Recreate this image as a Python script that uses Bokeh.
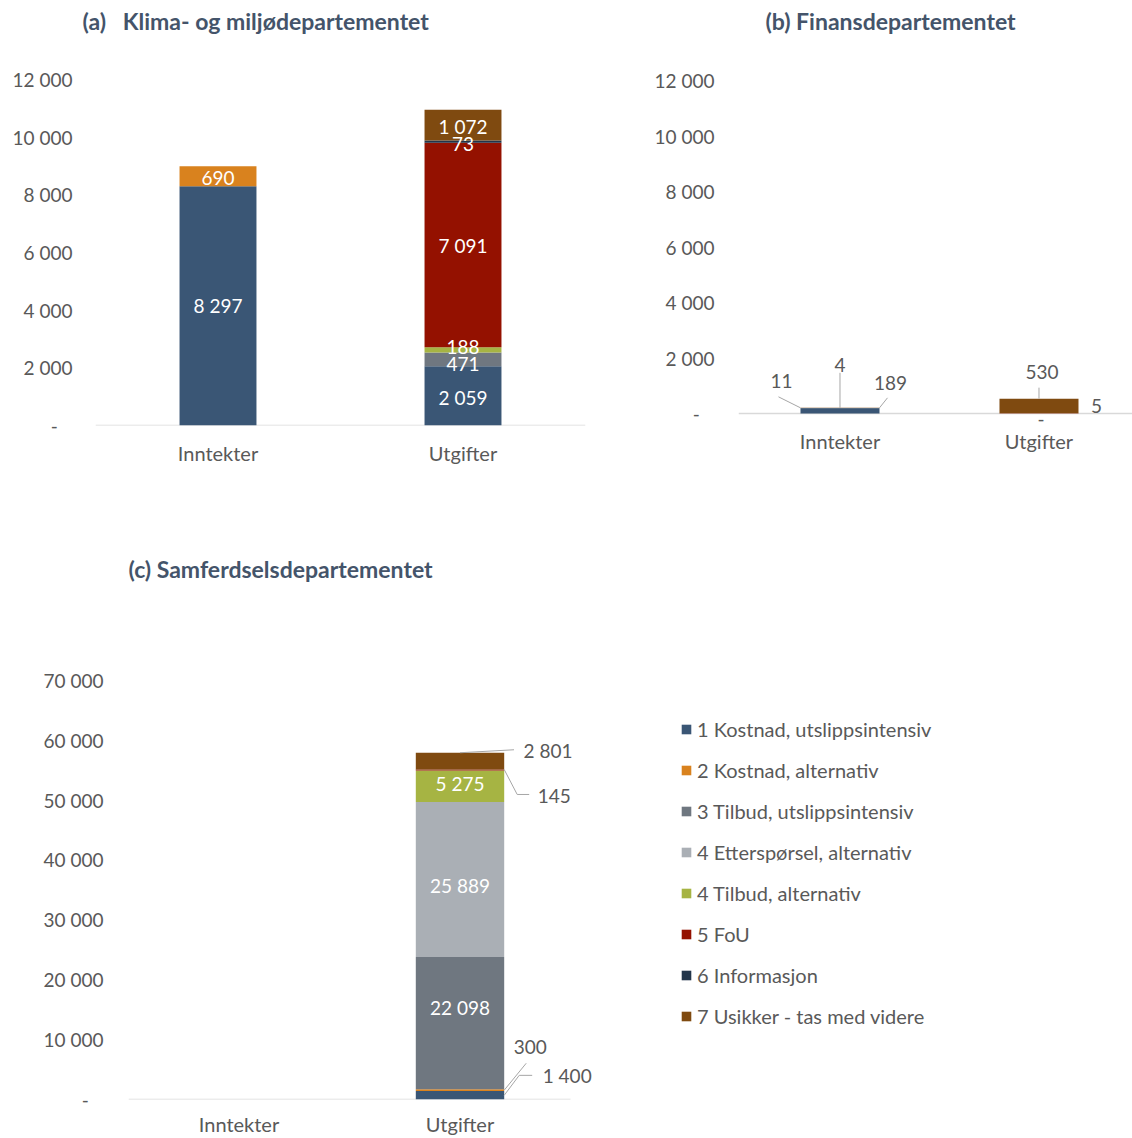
from bokeh.plotting import figure
from bokeh.models import (ColumnDataSource, FixedTicker, Range1d, Legend, LegendItem, LabelSet)
from bokeh.layouts import column, row
from bokeh.embed import file_html
from bokeh.resources import INLINE
from bokeh.core.properties import value

# ---------------- data ----------------
CATEGORIES = ["Inntekter", "Utgifter"]
SERIES = [
    "1 Kostnad, utslippsintensiv",
    "2 Kostnad, alternativ",
    "3 Tilbud, utslippsintensiv",
    "4 Etterspørsel, alternativ",
    "4 Tilbud, alternativ",
    "5 FoU",
    "6 Informasjon",
    "7 Usikker - tas med videre",
]
COLORS = ["#3a5675", "#d9821e", "#6f7780", "#aaafb5", "#a6b443", "#941100", "#22354a", "#7f4a10"]

# values per series (order as SERIES)
KLD_INNTEKTER = [8297, 690, 0, 0, 0, 0, 0, 0]
KLD_UTGIFTER = [2059, 0, 471, 0, 188, 7091, 73, 1072]
FIN_INNTEKTER = [189, 0, 0, 0, 0, 0, 11, 4]
FIN_UTGIFTER = [0, 0, 0, 0, 0, 5, 0, 530]
SD_INNTEKTER = [0, 0, 0, 0, 0, 0, 0, 0]
SD_UTGIFTER = [1400, 300, 22098, 25889, 5275, 145, 0, 2801]

TICKS_AB = [0, 2000, 4000, 6000, 8000, 10000, 12000]
TICK_LABELS_AB = ["-\u00a0\u00a0\u00a0", "2 000", "4 000", "6 000", "8 000", "10 000", "12 000"]
TICKS_C = [0, 10000, 20000, 30000, 40000, 50000, 60000, 70000]
TICK_LABELS_C = ["-\u00a0\u00a0\u00a0", "10 000", "20 000", "30 000", "40 000", "50 000", "60 000", "70 000"]

TITLE_A = "(a)\u00a0\u00a0 Klima- og miljødepartementet"
TITLE_B = "(b) Finansdepartementet"
TITLE_C = "(c) Samferdselsdepartementet"

# ---------------- style / layout ----------------
FONT = "Lato"
TEXT_GREY = "#595959"
TITLE_COLOR = "#44546a"
LEADER = "#a6a6a6"
AXIS_LINE = "#d9d9d9"

# pad = px between frame bottom and the zero line; base_to = where the base line ends (None = frame end)
GEOM_A = dict(w=592, h=482, left=95, right=7, top=36, bottom=57, x0=0.0, ppx=245.0, pad=0,
              ppy=346 / 12000, bw=0.314, title_offset=-13, title_standoff=4,
              xstandoff=15, ystandoff=23, base_to=None)
GEOM_B = dict(w=540, h=482, left=146, right=0, top=36, bottom=57, x0=-0.01, ppx=199.0, pad=12,
              ppy=333 / 12000, bw=0.397, title_offset=27, title_standoff=4,
              xstandoff=3, ystandoff=24, base_to=None)
GEOM_C = dict(w=1132, h=656, left=128, right=0, top=120, bottom=38, x0=0.0, ppx=221.0, pad=0,
              ppy=420 / 70000, bw=0.40, title_offset=0, title_standoff=40,
              xstandoff=12, ystandoff=25, base_to=len(CATEGORIES))

# label placement: (category index, series index, kind, anchor, label offset px, leader points px)
LABELS_A = [
    (0, 0, "in", None, (0, 0), None),
    (0, 1, "in", None, (0, 2), None),
    (1, 0, "in", None, (0, 2), None),
    (1, 2, "in", None, (0, 5), None),
    (1, 4, "in", None, (0, -3), None),
    (1, 5, "in", None, (0, 1), None),
    (1, 6, "in", None, (0, 2), None),
    (1, 7, "in", None, (0, 1), None),
]
LABELS_B = [
    (0, 6, "out", ("left", "total"), (-19, -27), [(0, 0), (-22, -11)]),
    (0, 7, "out", ("center", "total"), (0, -43), [(0, 0), (0, -35)]),
    (0, 0, "out", ("right", "total"), (11, -25), [(0, 0), (8, -10)]),
    (1, 7, "out", ("center", "total"), (3, -27), [(0, 0), (0, -11)]),
    (1, 5, "out", ("right", "base"), (18, -8), None),
    (1, 0, "out", ("center", "base"), (2, 5), None),
]
LABELS_C = [
    (1, 7, "out", ("center", "top"), (88, -2), [(0, 0), (54, -3)]),
    (1, 5, "out", ("right", "top"), (50, 27), [(0, 0), (13, 25), (25, 25)]),
    (1, 4, "in", None, (0, -3), None),
    (1, 3, "in", None, (0, 6), None),
    (1, 2, "in", None, (0, -16), None),
    (1, 1, "out", ("right", "mid"), (26, -43), [(0, 0), (22, -27)]),
    (1, 0, "out", ("right", "mid"), (63, -20), [(0, 0), (15, -20), (28, -20)]),
]


def fmt(v):
    return "-" if v == 0 else f"{v:,}".replace(",", " ")


def make_panel(title, inn, utg, ticks, tick_labels, g, labels):
    frame_w = g["w"] - g["left"] - g["right"]
    frame_h = g["h"] - g["top"] - g["bottom"]
    ppx, ppy = g["ppx"], g["ppy"]
    y0 = -g["pad"] / ppy
    x_end = g["x0"] + frame_w / ppx
    p = figure(width=g["w"], height=g["h"], output_backend="svg", toolbar_location=None,
               x_range=Range1d(g["x0"], x_end),
               y_range=Range1d(y0, y0 + frame_h / ppy),
               min_border_left=g["left"], min_border_right=g["right"],
               min_border_top=g["top"], min_border_bottom=g["bottom"],
               title=title)
    p.outline_line_color = None
    p.xgrid.visible = False
    p.ygrid.visible = False
    p.title.text_font = FONT
    p.title.text_font_style = "bold"
    p.title.text_font_size = "23px"
    p.title.text_color = TITLE_COLOR
    p.title.align = "left"
    p.title.offset = g["title_offset"]
    p.title.standoff = g["title_standoff"]

    xs = [i + 0.5 for i in range(len(CATEGORIES))]
    data = {"x": xs}
    keys = []
    for i in range(len(SERIES)):
        k = f"s{i}"
        keys.append(k)
        data[k] = [inn[i], utg[i]]
    src = ColumnDataSource(data)

    # base line at zero
    base_end = x_end if g["base_to"] is None else g["base_to"]
    p.segment(x0=[g["x0"]], x1=[base_end], y0=[0], y1=[0], line_color=AXIS_LINE, line_width=1.5)

    rends = p.vbar_stack(keys, x="x", width=g["bw"], fill_color=COLORS, line_color=None, source=src)

    # axes
    p.yaxis.ticker = FixedTicker(ticks=ticks)
    p.yaxis.major_label_overrides = {t: l for t, l in zip(ticks, tick_labels)}
    p.xaxis.ticker = FixedTicker(ticks=xs)
    p.xaxis.major_label_overrides = {x: c for x, c in zip(xs, CATEGORIES)}
    for ax in (p.xaxis[0], p.yaxis[0]):
        ax.axis_line_color = None
        ax.major_tick_line_color = None
        ax.minor_tick_line_color = None
        ax.major_tick_out = 0
        ax.major_tick_in = 0
        ax.minor_tick_out = 0
        ax.major_label_text_font = FONT
        ax.major_label_text_color = TEXT_GREY
    p.yaxis.major_label_text_font_size = "19px"
    p.xaxis.major_label_text_font_size = "20px"
    p.yaxis.major_label_standoff = g["ystandoff"]
    p.xaxis.major_label_standoff = g["xstandoff"]

    # data labels
    vals = [inn, utg]
    in_d = dict(x=[], y=[], t=[])
    out_d = dict(x=[], y=[], t=[])
    lx, ly = [], []
    for cat, s, kind, anchor, (dx, dy), leader in labels:
        v = vals[cat][s]
        bottom = sum(vals[cat][:s])
        top = bottom + v
        if kind == "in":
            in_d["x"].append(xs[cat])
            in_d["y"].append((bottom + top) / 2 - dy / ppy)
            in_d["t"].append(fmt(v))
            continue
        side, level = anchor
        ax_ = xs[cat] + {"left": -g["bw"] / 2, "center": 0, "right": g["bw"] / 2}[side]
        ay_ = {"top": top, "mid": (bottom + top) / 2, "bottom": bottom,
               "total": sum(vals[cat]), "base": 0}[level]
        out_d["x"].append(ax_ + dx / ppx)
        out_d["y"].append(ay_ - dy / ppy)
        out_d["t"].append(fmt(v))
        if leader:
            lx.append([ax_ + px / ppx for px, py in leader])
            ly.append([ay_ - py / ppy for px, py in leader])
    if lx:
        p.multi_line(xs=lx, ys=ly, line_color=LEADER, line_width=1)
    if in_d["x"]:
        p.add_layout(LabelSet(x="x", y="y", text="t", source=ColumnDataSource(in_d),
                              text_align="center", text_baseline="middle",
                              text_font=value(FONT), text_font_size=value("19px"),
                              text_color="white"))
    if out_d["x"]:
        p.add_layout(LabelSet(x="x", y="y", text="t", source=ColumnDataSource(out_d),
                              text_align="center", text_baseline="middle",
                              text_font=value(FONT), text_font_size=value("19px"),
                              text_color=TEXT_GREY))
    return p, rends


pa, _ = make_panel(TITLE_A, KLD_INNTEKTER, KLD_UTGIFTER, TICKS_AB, TICK_LABELS_AB, GEOM_A, LABELS_A)
pb, _ = make_panel(TITLE_B, FIN_INNTEKTER, FIN_UTGIFTER, TICKS_AB, TICK_LABELS_AB, GEOM_B, LABELS_B)
pc, rc = make_panel(TITLE_C, SD_INNTEKTER, SD_UTGIFTER, TICKS_C, TICK_LABELS_C, GEOM_C, LABELS_C)

legend = Legend(items=[LegendItem(label=value(s), renderers=[r]) for s, r in zip(SERIES, rc)],
                location=(552, 71), orientation="vertical",
                glyph_width=12, glyph_height=12, label_height=20, spacing=17,
                label_standoff=5, padding=0, margin=0,
                label_text_font=FONT, label_text_font_size="20px", label_text_color=TEXT_GREY,
                border_line_color=None, background_fill_alpha=0)
pc.add_layout(legend, "center")

layout = column(row(pa, pb), pc)
open("out.html", "w").write(file_html(layout, INLINE))
